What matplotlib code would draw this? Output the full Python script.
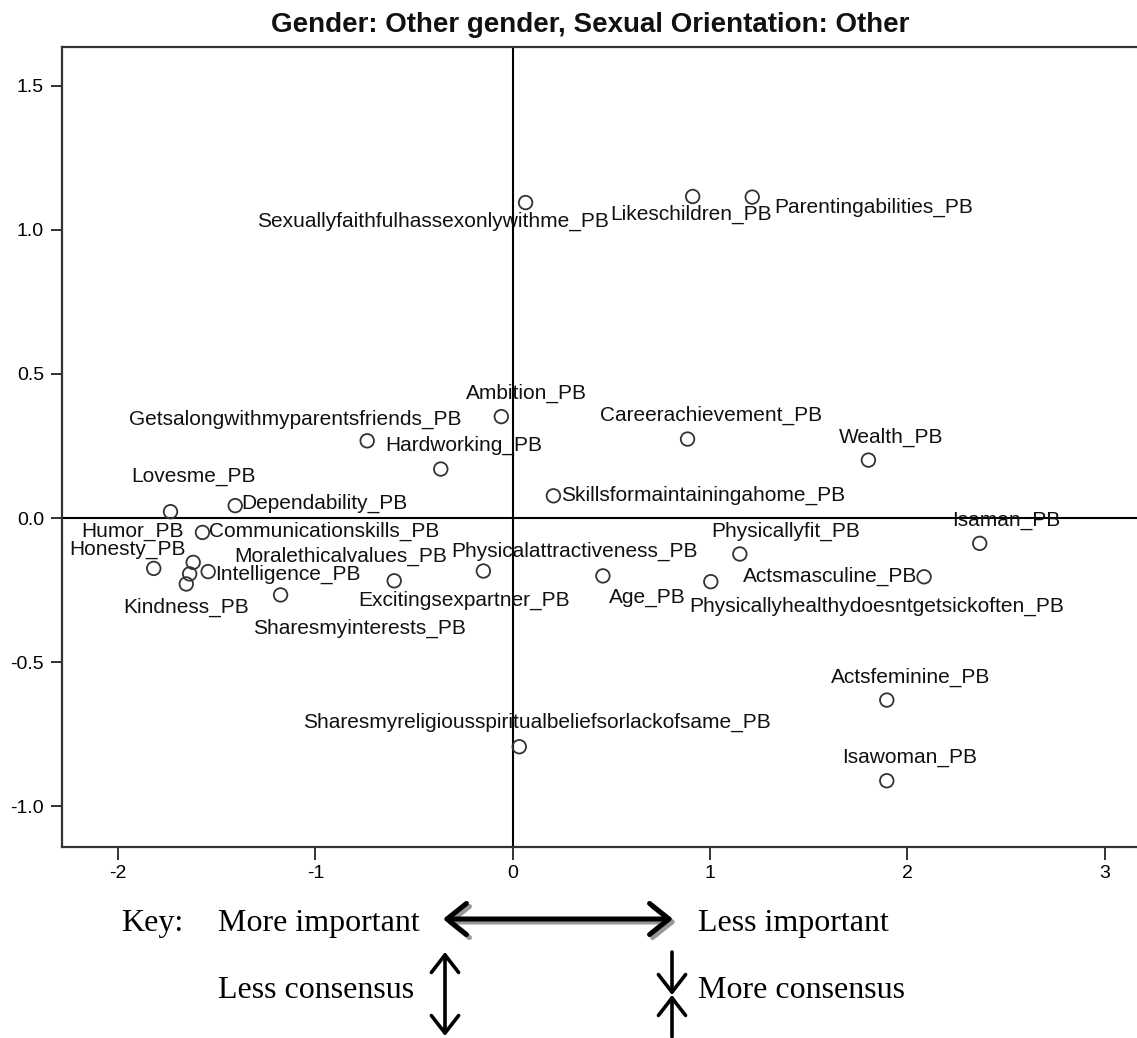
import matplotlib
matplotlib.use("Agg")
import matplotlib.pyplot as plt
from matplotlib.patches import FancyArrowPatch

plt.rcParams["axes.unicode_minus"] = False

labels = [
    "Sexuallyfaithfulhassexonlywithme_PB", "Likeschildren_PB", "Parentingabilities_PB",
    "Ambition_PB", "Getsalongwithmyparentsfriends_PB", "Careerachievement_PB",
    "Hardworking_PB", "Wealth_PB", "Lovesme_PB", "Dependability_PB",
    "Skillsformaintainingahome_PB", "Communicationskills_PB", "Physicallyfit_PB",
    "Isaman_PB", "Actsmasculine_PB", "Physicallyhealthydoesntgetsickoften_PB",
    "Age_PB", "Physicalattractiveness_PB", "Excitingsexpartner_PB",
    "Sharesmyinterests_PB", "Honesty_PB", "Humor_PB", "Intelligence_PB",
    "Moralethicalvalues_PB", "Kindness_PB", "Actsfeminine_PB",
    "Sharesmyreligiousspiritualbeliefsorlackofsame_PB", "Isawoman_PB",
]
dim1 = [0.065, 0.912, 1.214, -0.058, -0.738, 0.886, -0.365, 1.803, -1.735, -1.407,
        0.206, -1.573, 1.151, 2.367, 2.085, 1.004, 0.457, -0.149, -0.601, -1.177,
        -1.820, -1.620, -1.544, -1.638, -1.655, 1.896, 0.033, 1.896]
dim2 = [1.095, 1.116, 1.114, 0.352, 0.268, 0.274, 0.170, 0.201, 0.022, 0.043,
        0.077, -0.050, -0.125, -0.088, -0.204, -0.221, -0.201, -0.184, -0.218, -0.267,
        -0.175, -0.154, -0.186, -0.194, -0.229, -0.632, -0.794, -0.912]

# label placement next to each point (pixels, y up)
label_pos = [
    (83, -19, "right"), (-82, -18, "left"), (22, -10, "left"), (-35, 23, "left"),
    (94, 21, "right"), (-88, 24, "left"), (-56, 24, "left"), (-30, 23, "left"),
    (-39, 35, "left"), (6, 2, "left"), (8, 0, "left"), (7, 1, "left"),
    (-29, 23, "left"), (-28, 23, "left"), (-7, 0, "right"), (-22, -25, "left"),
    (6, -22, "left"), (-32, 20, "left"), (-36, -20, "left"), (-28, -33, "left"),
    (-84, 19, "left"), (-112, 31, "left"), (7, -3, "left"), (45, 18, "left"),
    (-63, -23, "left"), (-56, 23, "left"), (-216, 24, "left"), (-45, 23, "left"),
]

W, H = 1137, 1038
fig = plt.figure(figsize=(W / 100, H / 100), dpi=100)
ax = fig.add_axes([62 / W, 1 - 847 / H, (W - 62) / W + 0.01, 800 / H])

sans = ["Liberation Sans", "DejaVu Sans"]
serif = ["Liberation Serif", "DejaVu Serif"]

ax.axhline(0, color="black", lw=1.5, zorder=1)
ax.axvline(0, color="black", lw=1.5, zorder=1)
ax.scatter(dim1, dim2, s=95, facecolors="none", edgecolors="#333333",
           linewidths=1.3, zorder=3)
for lbl, x, y, (dx, dy, ha) in zip(labels, dim1, dim2, label_pos):
    ax.annotate(lbl, (x, y), xytext=(dx, dy), textcoords="offset pixels",
                ha=ha, va="center", fontsize=15, family=sans, color="#111111")

ax.set_xlim(-2.285, 3.222)
ax.set_ylim(-1.142, 1.635)
ax.set_xticks([-2, -1, 0, 1, 2, 3])
ax.set_yticks([-1.0, -0.5, 0.0, 0.5, 1.0, 1.5])
ax.set_yticklabels(["-1.0", "-0.5", "0.0", "0.5", "1.0", "1.5"])
ax.tick_params(axis="x", length=9, width=1.4, pad=4, labelsize=14, color="#333333")
ax.tick_params(axis="y", length=8, width=1.4, pad=5, labelsize=14, color="#333333")
for t in ax.get_xticklabels() + ax.get_yticklabels():
    t.set_family(sans)
for s in ["left", "bottom", "top"]:
    ax.spines[s].set_linewidth(1.6)
    ax.spines[s].set_color("#333333")
ax.spines["right"].set_visible(False)

fig.text(590 / W, 1 - 25 / H, "Gender: Other gender, Sexual Orientation: Other",
         ha="center", va="center", fontsize=20, fontweight="bold",
         family=sans, color="#111111")

# key below the chart
def px(x, y):
    return (x / W, 1 - y / H)

key_kw = dict(fontsize=23, family=serif, va="baseline", ha="left")
fig.text(*px(121, 931), "Key:", **key_kw)
fig.text(*px(218, 931), "More important", **key_kw)
fig.text(*px(698, 931), "Less important", **key_kw)
fig.text(*px(218, 998), "Less consensus", **key_kw)
fig.text(*px(698, 998), "More consensus", **key_kw)

def arrow(p0, p1, style, lw, color="black", z=5):
    a = FancyArrowPatch(px(*p0), px(*p1), transform=fig.transFigure,
                        arrowstyle=style, mutation_scale=14, lw=lw,
                        color=color, zorder=z, shrinkA=0, shrinkB=0)
    fig.patches.append(a)

big = "<->,head_length=1.0,head_width=0.8"
arrow((446, 922), (676, 922), big, 3.6, color="#999999", z=4)
arrow((443, 919), (673, 919), big, 3.6)
arrow((445, 952), (445, 1036), "<->,head_length=0.9,head_width=0.7", 2.6)
arrow((672, 952), (672, 995), "->,head_length=0.9,head_width=0.7", 2.6)
arrow((672, 1037), (672, 995), "->,head_length=0.9,head_width=0.7", 2.6)

fig.savefig("out.png", dpi=100)
